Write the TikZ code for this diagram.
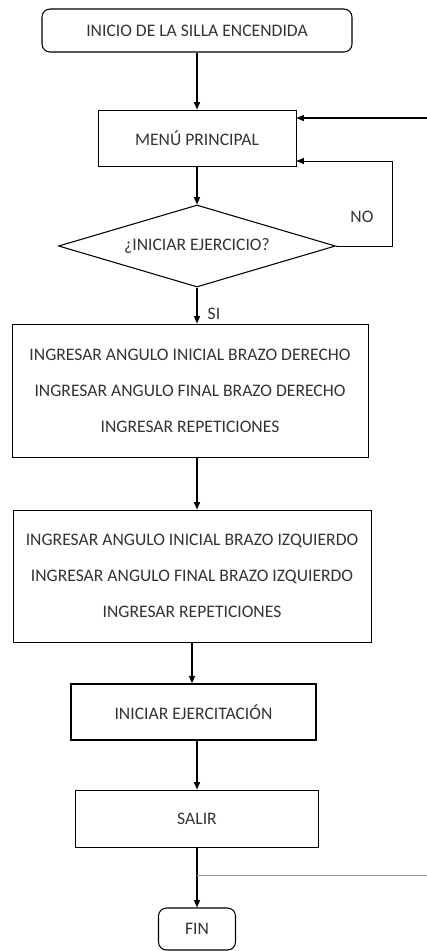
\documentclass[tikz,border=0pt]{standalone}
\usepackage{fontspec}
\setmainfont{Carlito}
\usepackage{tikz}
\usetikzlibrary{shapes, arrows.meta, calc, positioning}
\colorlet{textgrey}{black!80}
\colorlet{loopgrey}{black!40}

\begin{document}
\begin{tikzpicture}[x = 0.75pt, y = -0.75pt,
        caja/.style = {draw, rectangle, inner sep = 0pt, text = textgrey, align = center,
                       line width = 0.65pt, font = \fontsize{13.2}{15.8}\selectfont},
        extremo/.style = {caja, rounded corners = 6pt},
        flecha/.style = {-{Triangle[length = 5.5pt, width = 4.5pt]}, line width = 0.9pt},
        etiqueta/.style = {text = textgrey, inner sep = 0pt, font = \fontsize{13.2}{15.8}\selectfont}]
    \useasboundingbox (0, 0) rectangle (427, 951);
    \clip (0, 0) rectangle (427, 951);

    \node (Inicio) [extremo, line width = 0.8pt, minimum width = 232.5pt, minimum height = 32.25pt] at (197, 30.5) {INICIO DE LA SILLA ENCENDIDA};
    \node (Menu) [caja, minimum width = 148.5pt, minimum height = 42pt] at (197, 138) {MENÚ PRINCIPAL};
    \node (Pregunta) [caja, diamond, aspect = 3.4, line width = 0.8pt, minimum width = 207.75pt, minimum height = 61.5pt] at (197, 246) {¿INICIAR EJERCICIO?};
    \node (Derecho) [caja, line width = 0.75pt, minimum width = 267pt, minimum height = 99.75pt] at (190, 390.5)
        {INGRESAR ANGULO INICIAL BRAZO DERECHO\\[11.2pt] INGRESAR ANGULO FINAL BRAZO DERECHO\\[11.2pt] INGRESAR REPETICIONES};
    \node (Izquierdo) [caja, minimum width = 268.5pt, minimum height = 99pt] at (192, 576)
        {INGRESAR ANGULO INICIAL BRAZO IZQUIERDO\\[11.2pt] INGRESAR ANGULO FINAL BRAZO IZQUIERDO\\[11.2pt] INGRESAR REPETICIONES};
    \node (Ejercitar) [caja, line width = 1.1pt, minimum width = 183.75pt, minimum height = 42pt] at (193.5, 712) {INICIAR EJERCITACIÓN};
    \node (Salir) [caja, minimum width = 182.25pt, minimum height = 42.75pt] at (197, 818.5) {SALIR};
    \node (Fin) [extremo, line width = 0.8pt, minimum width = 57.75pt, minimum height = 31.5pt] at (197, 929) {FIN};

    \node (NoTexto) [etiqueta] at (362, 217) {NO};
    \node (SiTexto) [etiqueta] at (214, 314) {SI};

    \coordinate (NoEsquina) at (392, 161);
    \coordinate (Union) at (197, 875);
    \coordinate (LazoAbajo) at (440, 875);
    \coordinate (LazoArriba) at (440, 118);

    \draw [flecha] (Inicio.south) -- (Menu.north);
    \draw [flecha] (Menu.south) -- (Pregunta.north);
    \draw [flecha] (Pregunta.south) -- (Pregunta.south |- Derecho.north);
    \draw [flecha] (Derecho.south -| Menu.south) -- (Izquierdo.north -| Menu.south);
    \draw [flecha] (Izquierdo.south) -- (Izquierdo.south |- Ejercitar.north);
    \draw [flecha] (Ejercitar.south -| Salir.south) -- (Salir.north);
    \draw [flecha] (Salir.south) -- (Fin.north);

    \draw [flecha, line width = 0.7pt] (Pregunta.east) -| (NoEsquina) -- (NoEsquina -| Menu.east);

    \draw [color = loopgrey, line width = 0.6pt] (Union) -- (LazoAbajo) -- (LazoArriba);
    \draw [flecha] (LazoArriba) -- (LazoArriba -| Menu.east);
\end{tikzpicture}
\end{document}
